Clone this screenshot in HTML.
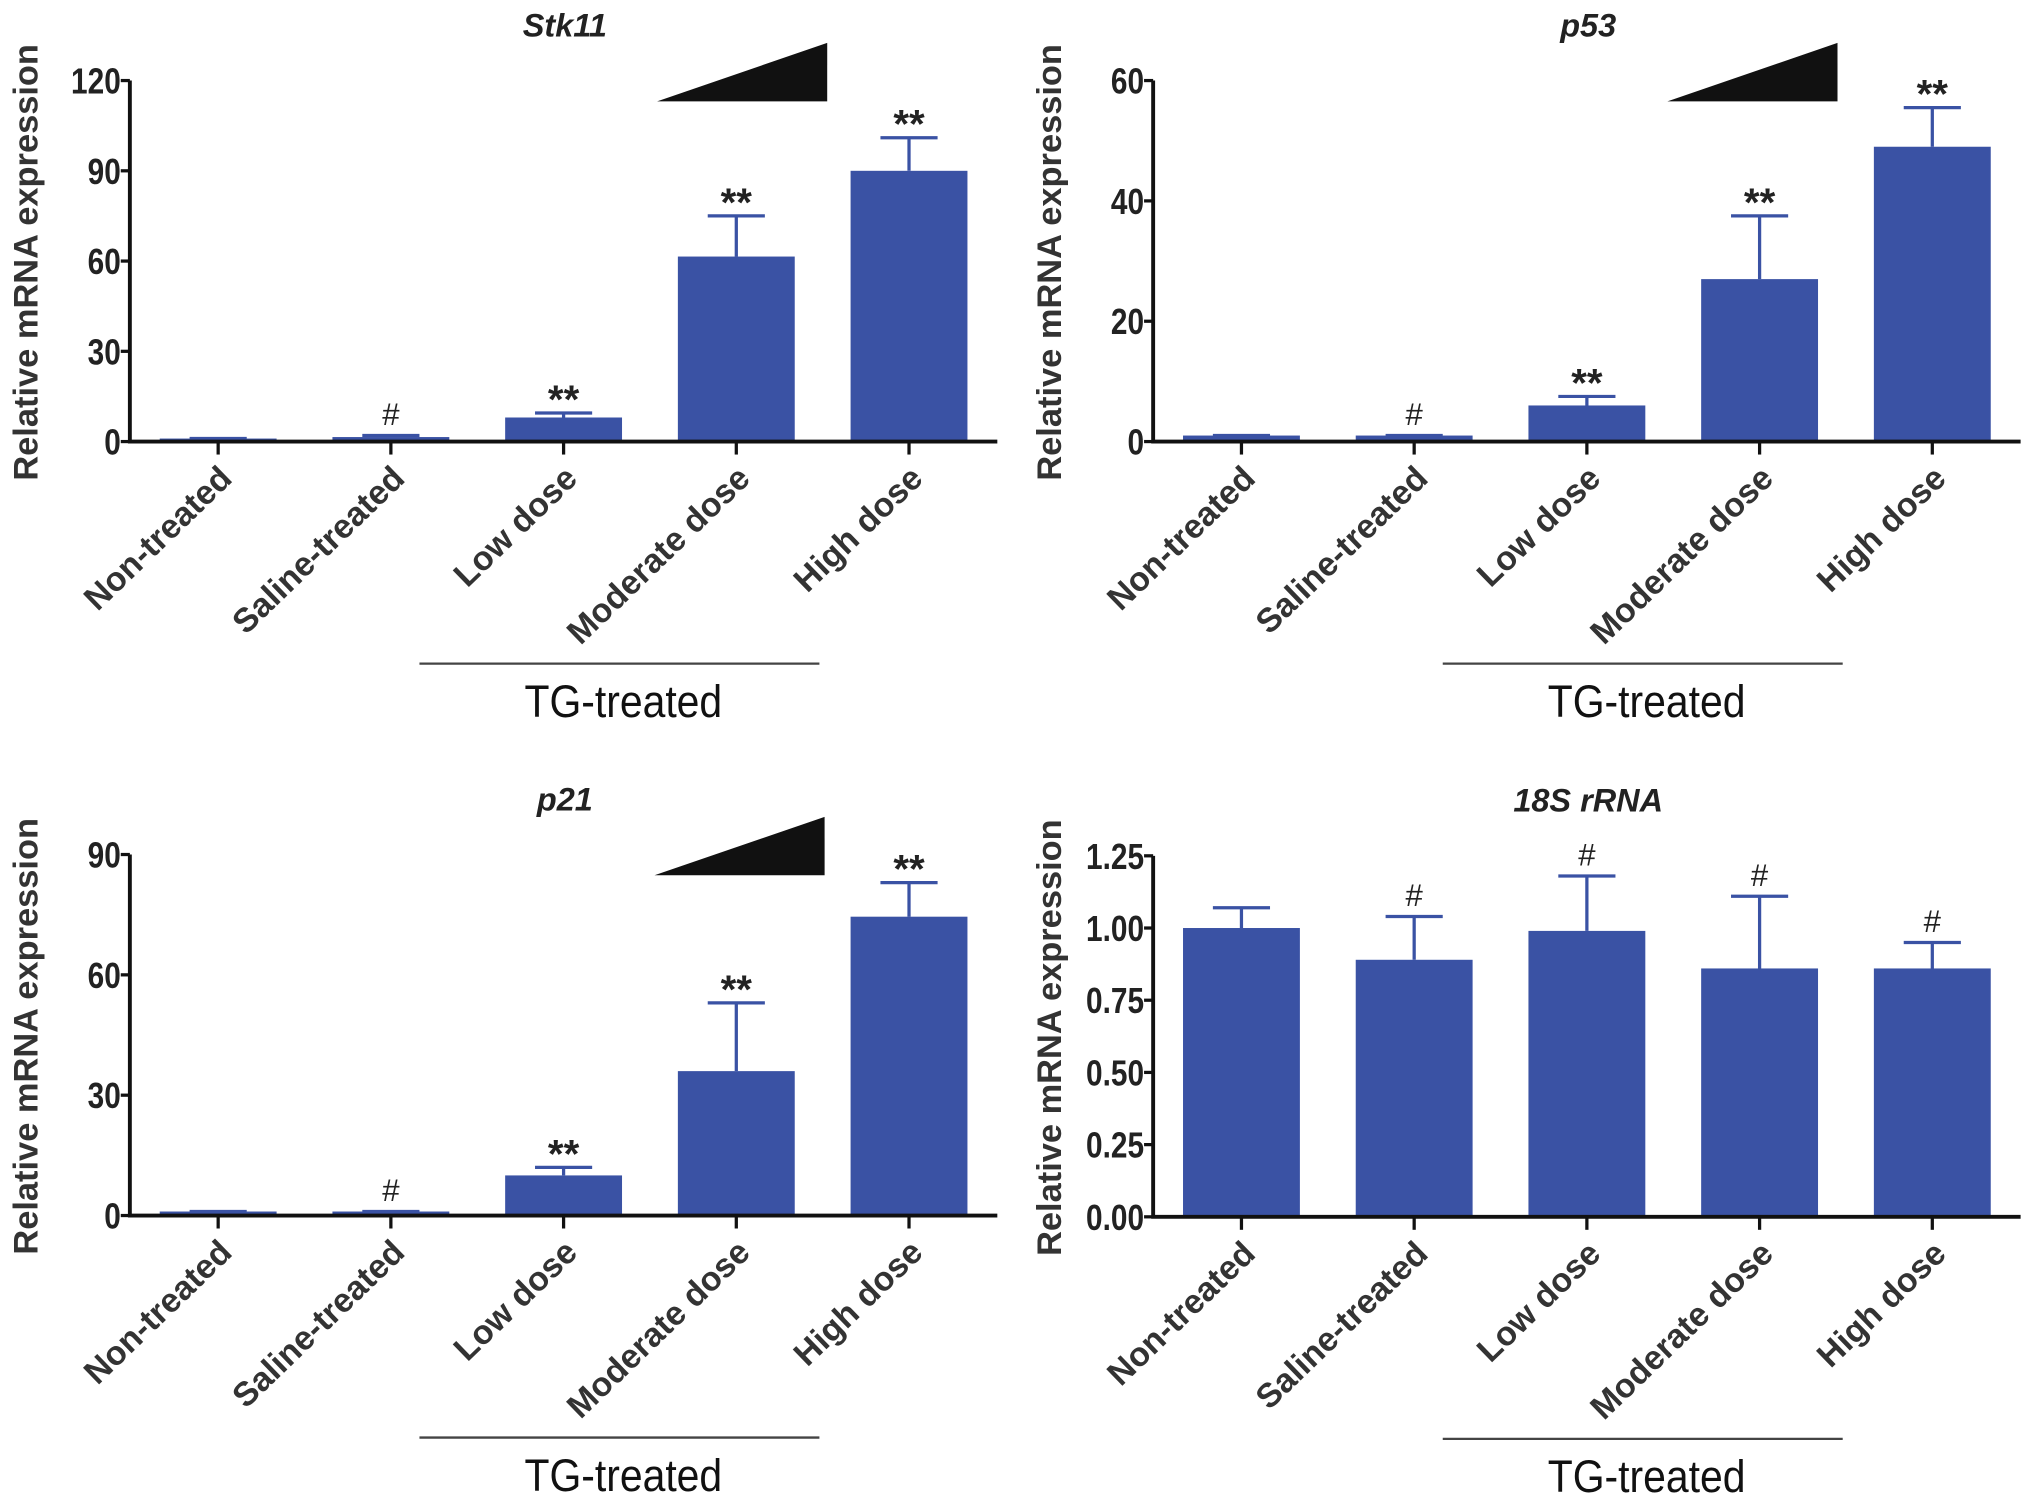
<!DOCTYPE html>
<html><head><meta charset="utf-8"><style>
html,body{margin:0;padding:0;background:#fff;}
svg{display:block;}
text{font-family:"Liberation Sans",Arial,sans-serif;}
</style></head><body>
<svg id="fig" width="2031" height="1511" viewBox="0 0 1564 1163.5" xmlns="http://www.w3.org/2000/svg"></svg>
<script>
const categories = ["Non-treated","Saline-treated","Low dose","Moderate dose","High dose"];
const stk11Values = [1, 1.5, 8, 61.5, 90];
const stk11Errors = [1, 2, 9.5, 75, 101];
const stk11Marks = ["", "#", "**", "**", "**"];
const stk11Ticks = [0, 30, 60, 90, 120];
const p53Values = [1, 1, 6, 27, 49];
const p53Errors = [1, 1, 7.5, 37.5, 55.5];
const p53Marks = ["", "#", "**", "**", "**"];
const p53Ticks = [0, 20, 40, 60];
const p21Values = [1, 1, 10, 36, 74.5];
const p21Errors = [1, 1, 12, 53, 83];
const p21Marks = ["", "#", "**", "**", "**"];
const p21Ticks = [0, 30, 60, 90];
const rrnaValues = [1.0, 0.89, 0.99, 0.86, 0.86];
const rrnaErrors = [1.07, 1.04, 1.18, 1.11, 0.95];
const rrnaMarks = ["", "#", "#", "#", "#"];
const rrnaTicks = ["0.00", "0.25", "0.50", "0.75", "1.00", "1.25"];

const NS = "http://www.w3.org/2000/svg";
const svg = document.getElementById("fig");
function mk(tag, attrs, parent, txt) {
  const e = document.createElementNS(NS, tag);
  for (const k in attrs) e.setAttribute(k, attrs[k]);
  if (txt !== undefined) e.textContent = txt;
  (parent || svg).appendChild(e);
  return e;
}

function panel(id, ox, oy, title, values, errs, marks, ticks, triangle, triDx) {
  const g = mk("g", {transform: `translate(${ox},${oy})`});
  
  
  const x0 = 100, x1 = 768, y0 = 340, yTop = 62;
  const tnum = ticks.map(Number);
  const ymax = tnum[tnum.length - 1];
  const yS = v => y0 - (v / ymax) * (y0 - yTop);
  const xS = i => 168 + i * 133;
  const bw = 90;
  const t = mk("text", {x: 435, y: 28, "text-anchor": "middle", "font-size": 25, "font-weight": "bold", "font-style": "italic", fill: "#222"}, g, title);
  
  
  const yt = mk("text", {transform: "translate(29,202) rotate(-90)", "text-anchor": "middle", "font-size": 26.5, "font-weight": "bold", fill: "#333"}, g, "Relative mRNA expression");
  
  
  values.forEach((v, i) => {
    const cx = xS(i);
    const b = mk("rect", {x: cx - bw / 2, y: yS(v), width: bw, height: y0 - yS(v), fill: "#3a52a4"}, g);
    
    
    const ey = yS(errs[i]);
    const el = mk("path", {d: `M${cx},${yS(v)}V${ey}M${cx - 22},${ey}H${cx + 22}`, stroke: "#3a52a4", "stroke-width": 2.5, fill: "none"}, g);
    
    
    if (marks[i]) {
      const m = mk("text", {x: cx, y: ey - (marks[i] === "#" ? 8 : 0), "text-anchor": "middle", "font-size": marks[i] === "#" ? 24 : 31, "font-weight": marks[i] === "#" ? "normal" : "bold", fill: "#222"}, g, marks[i]);
      
      
    }
    const tk = mk("line", {x1: cx, y1: y0, x2: cx, y2: y0 + 10, stroke: "#111", "stroke-width": 2.5}, g);
    
    
    const cl = mk("text", {transform: `translate(${cx + 12},${y0 + 30}) rotate(-44)`, "text-anchor": "end", "font-size": 26, "font-weight": "bold", fill: "#333"}, g, categories[i]);
    
    
  });
  const ax = mk("path", {d: `M${x0},${yTop}V${y0}H${x1}`, stroke: "#111", "stroke-width": 3, fill: "none"}, g);
  
  
  ticks.forEach((tv, i) => {
    const y = yS(tnum[i]);
    const l = mk("line", {x1: x0 - 7, y1: y, x2: x0, y2: y, stroke: "#111", "stroke-width": 2.5}, g);
    
    
    const tl = mk("text", {transform: `translate(${x0 - 7},${y + 10}) scale(0.82,1)`, "text-anchor": "end", "font-size": 28, "font-weight": "bold", fill: "#222"}, g, tv);
    
    
  });
  const br = mk("line", {x1: 323, y1: 511, x2: 631, y2: 511, stroke: "#444", "stroke-width": 1.8}, g);
  
  
  const bt = mk("text", {transform: "translate(480,552) scale(0.9,1)", "text-anchor": "middle", "font-size": 35, fill: "#111"}, g, "TG-treated");
  
  
  if (triangle) {
    const tr = mk("polygon", {points: `${506 + triDx},78 ${637 + triDx},33 ${637 + triDx},78`, fill: "#111"}, g);
    
    
  }
}
panel("stk11", 0, 0, "Stk11", stk11Values, stk11Errors, stk11Marks, stk11Ticks, true, 0);
panel("p53", 788, 0, "p53", p53Values, p53Errors, p53Marks, p53Ticks, true, -10);
panel("p21", 0, 596, "p21", p21Values, p21Errors, p21Marks, p21Ticks, true, -2);
panel("rrna", 788, 597, "18S rRNA", rrnaValues, rrnaErrors, rrnaMarks, rrnaTicks, false, 0);
</script>
</body></html>
